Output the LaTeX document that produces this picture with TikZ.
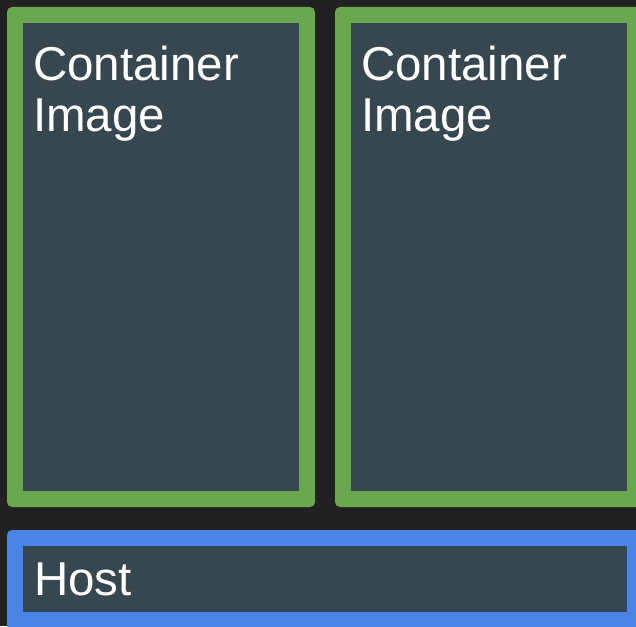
\documentclass[tikz,border=0pt]{standalone}
\usepackage{fontspec}
\setmainfont{Liberation Sans}
\definecolor{bgdark}{HTML}{212121}
\definecolor{boxfill}{HTML}{37474F}
\definecolor{boxgreen}{HTML}{6AA84F}
\definecolor{boxblue}{HTML}{4A86E8}
\tikzset{
  label text/.style={anchor=base west, inner sep=0pt, text=white, align=left,
    font=\fontsize{47.5}{51}\selectfont},
  outer green/.style={fill=boxgreen, rounded corners=5pt},
  outer blue/.style={fill=boxblue, rounded corners=5pt},
  inner box/.style={fill=boxfill}
}
\begin{document}
\begin{tikzpicture}[x=1pt,y=-1pt]
\useasboundingbox (0,0) rectangle (636,626);
\clip (0,0) rectangle (636,626);
\fill[bgdark] (0,0) rectangle (636,626);
% left container
\path[outer green] (7,7) rectangle (315,507);
\path[inner box] (23,23) rectangle (299,491);
% right container
\path[outer green] (335,7) rectangle (643,507);
\path[inner box] (351,23) rectangle (627,491);
% host
\path[outer blue] (7,530) rectangle (643,640);
\path[inner box] (23,546) rectangle (627,612);
\node[label text] (img1) at (33,131) {Container\\Image};
\node[label text] (img2) at (361,131) {Container\\Image};
\node[label text] (host) at (34,595) {Host};
\end{tikzpicture}
\end{document}
